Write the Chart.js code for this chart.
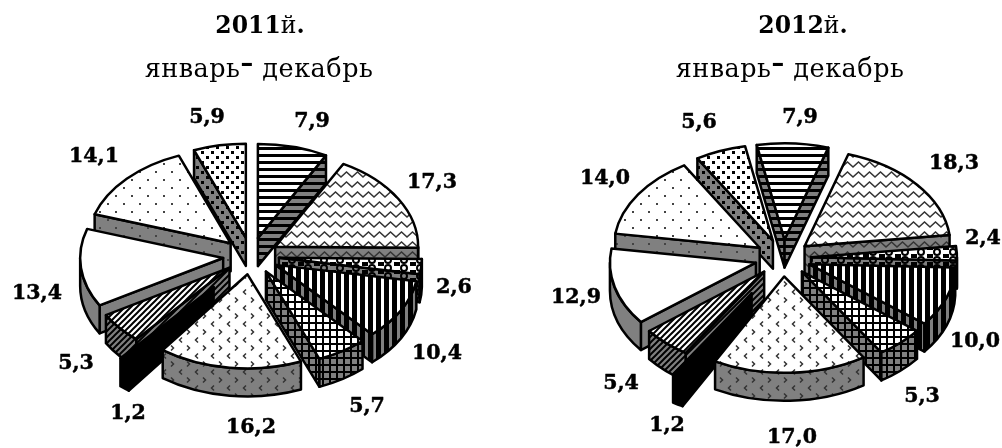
<!DOCTYPE html>
<html>
<head>
<meta charset="utf-8">
<script src="https://cdn.jsdelivr.net/npm/chart.js@4"></script>
<style>
  html, body { margin: 0; padding: 0; background: #fff; overflow: hidden; }
  #page { position: relative; width: 1002px; height: 448px; font-family: "DejaVu Serif", serif; color: #000; }
  canvas { position: absolute; top: 0; }
  .head { position: absolute; white-space: pre; transform: translateX(-50%); z-index: 2; }
  .year { top: 11px; font-size: 23.5px; line-height: 28px; }
  .sub { top: 53px; font-size: 25.5px; line-height: 30px; letter-spacing: 0.5px; }
  .dash { position: relative; top: -6px; font-weight: bold; }
</style>
</head>
<body>
<div id="page">
  <canvas id="pie2011" width="501" height="448" style="left:0"></canvas>
  <canvas id="pie2012" width="501" height="448" style="left:501px"></canvas>
  <div class="head year" style="left:260px"><b>2011</b>й<b>.</b></div>
  <div class="head sub" style="left:259px">январь<span class="dash">–</span> декабрь</div>
  <div class="head year" style="left:803px"><b>2012</b>й<b>.</b></div>
  <div class="head sub" style="left:790px">январь<span class="dash">–</span> декабрь</div>
</div>

<script>
const values2011 = [7.9, 17.3, 2.6, 10.4, 5.7, 16.2, 1.2, 5.3, 13.4, 14.1, 5.9];
const values2012 = [7.9, 18.3, 2.4, 10.0, 5.3, 17.0, 1.2, 5.4, 12.9, 14.0, 5.6];

// where the value labels sit, canvas pixels
const labelSpots2011 = [[312,122],[432,183],[454,288],[437,354],[367,407],[251,428],[128,414],[76,364],[37,294],[94,157],[207,118]];
const labelSpots2012 = [[299,118],[453,164],[482,239],[474,342],[421,397],[291,438],[166,426],[120,384],[75,298],[104,179],[198,123]];

const SIDE_GRAY = '#808080';

function makePattern(w, h, bg, paint) {
  const c = document.createElement('canvas');
  c.width = w;
  c.height = h;
  const g = c.getContext('2d');
  g.fillStyle = bg;
  g.fillRect(0, 0, w, h);
  g.fillStyle = '#000';
  g.strokeStyle = '#000';
  paint(g);
  return g.createPattern(c, 'repeat');
}

// one painter per slice, used on white for the top and on gray for the side
const painters = [
  { w: 7, h: 7, paint: g => g.fillRect(0, 0, 7, 3) },
  { w: 11, h: 10, paint: g => {
    g.strokeStyle = '#333';
    g.lineWidth = 1.5;
    g.beginPath();
    g.moveTo(-5.5, 2); g.lineTo(0, 7); g.lineTo(5.5, 2); g.lineTo(11, 7); g.lineTo(16.5, 2);
    g.stroke();
  } },
  { w: 16, h: 8, paint: g => {
    g.lineWidth = 2;
    g.beginPath(); g.arc(4, 4, 3, 0, Math.PI * 2); g.stroke();
    g.fillRect(10, 0, 6, 2);
    g.fillRect(10, 6, 6, 2);
  } },
  { w: 8, h: 8, paint: g => g.fillRect(0, 0, 5, 8) },
  { w: 7, h: 7, paint: g => { g.fillRect(0, 0, 2, 7); g.fillRect(0, 0, 7, 2); } },
  { w: 16, h: 16, paint: g => {
    g.strokeStyle = '#333';
    g.lineWidth = 1.5;
    g.beginPath();
    g.moveTo(6, 1.5); g.lineTo(3.5, 4); g.lineTo(6, 6.5);
    g.moveTo(11, 9.5); g.lineTo(13.5, 12); g.lineTo(11, 14.5);
    g.stroke();
  } },
  null,
  { w: 6, h: 6, paint: g => {
    g.lineWidth = 2;
    g.beginPath();
    g.moveTo(-2, 2); g.lineTo(2, -2);
    g.moveTo(0, 6); g.lineTo(6, 0);
    g.moveTo(4, 8); g.lineTo(8, 4);
    g.stroke();
  } },
  { w: 4, h: 4, paint: g => {} },
  { w: 16, h: 16, paint: g => {
    g.fillStyle = '#444';
    g.fillRect(3, 3, 2, 2);
    g.fillRect(11, 11, 2, 2);
  } },
  { w: 10, h: 10, paint: g => {
    g.fillRect(1, 1, 3, 3);
    g.fillRect(6, 6, 3, 3);
  } }
];

const topFills = painters.map(p => p ? makePattern(p.w, p.h, '#fff', p.paint) : '#000');
const sideFills = painters.map((p, i) => {
  if (!p) return '#000';
  if (i === 8) return SIDE_GRAY;
  return makePattern(p.w, p.h, SIDE_GRAY, p.paint);
});

// flattened, extruded pie: reads the angles and radius the pie controller worked out
const tiltedPie = {
  id: 'tiltedPie',
  beforeDatasetDraw(chart, args, opts) {
    const ctx = chart.ctx;
    const arcs = chart.getDatasetMeta(args.index).data;
    const ds = chart.data.datasets[args.index];
    const k = opts.squash;
    const depth = opts.depth;

    const pieces = arcs.map((arc, i) => {
      const a = arc.getProps(['x', 'y', 'startAngle', 'endAngle', 'outerRadius']);
      const mid = (a.startAngle + a.endAngle) / 2;
      const off = arc.options.offset;
      return {
        i, a0: a.startAngle, a1: a.endAngle, r: a.outerRadius,
        ax: a.x + Math.cos(mid) * off,
        ay: a.y + Math.sin(mid) * off * k,
        order: Math.sin(mid)
      };
    }).sort((p, q) => p.order - q.order);

    ctx.save();
    ctx.lineWidth = 2.5;
    ctx.strokeStyle = '#000';
    ctx.lineJoin = 'round';

    pieces.forEach(p => {
      const ry = p.r * k;
      const rim = t => [p.ax + Math.cos(t) * p.r, p.ay + Math.sin(t) * ry];
      const paint = fill => { ctx.fillStyle = fill; ctx.fill(); ctx.stroke(); };
      const face = t => {
        const [x, y] = rim(t);
        ctx.beginPath();
        ctx.moveTo(p.ax, p.ay);
        ctx.lineTo(x, y);
        ctx.lineTo(x, y + depth);
        ctx.lineTo(p.ax, p.ay + depth);
        ctx.closePath();
        paint(ds.sideFill[p.i]);
      };

      if (Math.cos(p.a0) < 0) face(p.a0);
      if (Math.cos(p.a1) > 0) face(p.a1);

      const lo = Math.max(p.a0, 0);
      const hi = Math.min(p.a1, Math.PI);
      if (hi > lo) {
        ctx.beginPath();
        ctx.ellipse(p.ax, p.ay, p.r, ry, 0, lo, hi);
        ctx.ellipse(p.ax, p.ay + depth, p.r, ry, 0, hi, lo, true);
        ctx.closePath();
        paint(ds.sideFill[p.i]);
      }

      ctx.beginPath();
      ctx.moveTo(p.ax, p.ay);
      ctx.ellipse(p.ax, p.ay, p.r, ry, 0, p.a0, p.a1);
      ctx.closePath();
      paint(ds.backgroundColor[p.i]);
    });

    ctx.fillStyle = '#000';
    ctx.strokeStyle = '#000';
    ctx.lineWidth = 0.5;
    ctx.font = 'bold 20.5px "DejaVu Serif"';
    ctx.textAlign = 'center';
    ctx.textBaseline = 'middle';
    ds.data.forEach((v, i) => {
      const text = v.toFixed(1).replace('.', ',');
      ctx.fillText(text, opts.labels[i][0], opts.labels[i][1]);
      ctx.strokeText(text, opts.labels[i][0], opts.labels[i][1]);
    });
    ctx.restore();
    return false;
  }
};

function drawPie(id, values, spots, rotation, squash, depth, pull, padding) {
  new Chart(document.getElementById(id), {
    type: 'pie',
    data: {
      labels: values.map(v => v.toFixed(1)),
      datasets: [{
        data: values,
        backgroundColor: topFills,
        sideFill: sideFills,
        borderColor: '#000',
        borderWidth: 2,
        // the small black slice sits further out than the others
        offset: values.map((v, i) => i === 6 ? pull : 28)
      }]
    },
    options: {
      responsive: false,
      animation: false,
      events: [],
      rotation: rotation,
      layout: { padding: padding },
      plugins: {
        legend: { display: false },
        tooltip: { enabled: false },
        tiltedPie: { squash: squash, depth: depth, labels: spots }
      }
    },
    plugins: [tiltedPie]
  });
}

drawPie('pie2011', values2011, labelSpots2011, 0, 0.658, 28, 60, { left: 77, right: 76, top: 82, bottom: 18 });
drawPie('pie2012', values2012, labelSpots2012, -11, 0.66, 28, 62, { left: 104, right: 41, top: 80, bottom: 12 });
</script>
</body>
</html>
